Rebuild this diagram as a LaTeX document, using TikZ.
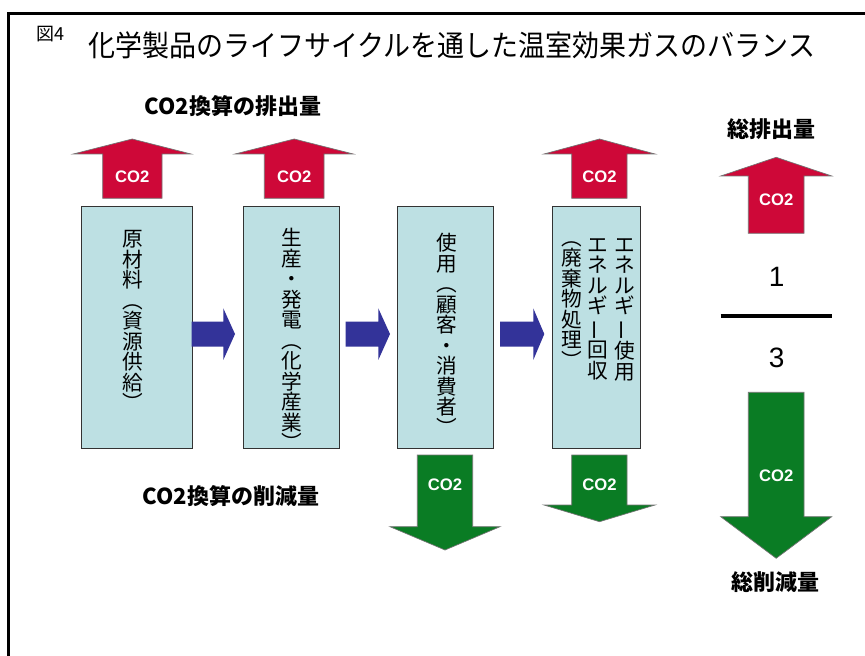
\documentclass[tikz,border=0pt]{standalone}
\usepackage{fontspec}
\usepackage{graphicx}
\newfontfamily\jp{Noto Sans CJK JP}
\newfontfamily\lsans{Liberation Sans}
\definecolor{redA}{RGB}{206,8,56}
\definecolor{greenA}{RGB}{10,124,36}
\definecolor{blueA}{RGB}{51,51,153}
\definecolor{boxC}{RGB}{189,224,227}
\newcommand\vchoon{\rotatebox[origin=c]{90}{ー}}
\tikzset{
  stagebox/.style={draw=black!80, line width=0.8pt, fill=boxC, inner sep=0, anchor=north west},
  redarr/.style={fill=redA, draw=black!55, line width=0.5pt},
  greenarr/.style={fill=greenA, draw=black!55, line width=0.5pt},
  bluearr/.style={fill=blueA},
  co2/.style={text=white, font=\lsans\bfseries\fontsize{12.5}{14}\selectfont, inner sep=0},
  vtxt/.style={anchor=north, align=center, inner sep=0, font=\jp\fontsize{15.5}{15.4}\selectfont},
  lbl/.style={inner sep=0, font=\jp\bfseries\fontsize{16.5}{18}\selectfont},
  digit/.style={inner sep=0, font=\lsans\fontsize{21}{24}\selectfont},
}
\begin{document}
\begin{tikzpicture}[x=0.75pt, y=-0.75pt]
\fill[white] (0,0) rectangle (865,656);
\useasboundingbox (0,0) rectangle (865,656);
% frame
\draw[line width=2.25pt] (8,656) -- (8,14) -- (865,14);
% title
\node[inner sep=0, font=\jp\fontsize{13.5}{15}\selectfont] (fig) at (50,34) {図4};
\node[anchor=west, inner sep=0, font=\jp\fontsize{22}{24}\selectfont] (title) at (88,45) {\scalebox{0.92}[1]{化学製品のライフサイクルを通した温室効果ガスのバランス}};
% labels
\node[lbl] (emis) at (233,106) {CO2換算の排出量};
\node[lbl] (redu) at (231,496) {CO2換算の削減量};
\node[lbl] (tot1) at (771.5,129.3) {総排出量};
\node[lbl] (tot2) at (775.5,581.7) {総削減量};
% boxes
\node[stagebox, minimum width=83pt, minimum height=181.95pt] (b1) at (81,205.7) {};
\node[stagebox, minimum width=71.8pt, minimum height=181.95pt] (b2) at (243,205.7) {};
\node[stagebox, minimum width=72pt, minimum height=181.95pt] (b3) at (397.3,205.7) {};
\node[stagebox, minimum width=66.2pt, minimum height=181.95pt] (b4) at (552,205.7) {};
% vertical texts
\node[vtxt] (t1) at (133.3,230) {原\\材\\料\\︵\\資\\源\\供\\給\\︶};
\node[vtxt] (t2) at (291.7,228) {生\\産\\・\\発\\電\\︵\\化\\学\\産\\業\\︶};
\node[vtxt] (t3) at (446.7,233) {使\\用\\︵\\顧\\客\\・\\消\\費\\者\\︶};
\node[vtxt] (t4a) at (625,238) {エ\\ネ\\ル\\ギ\\\vchoon\\使\\用};
\node[vtxt] (t4b) at (598.3,238) {エ\\ネ\\ル\\ギ\\\vchoon\\回\\収};
\node[vtxt] (t4c) at (571.7,241) {︵\\廃\\棄\\物\\処\\理\\︶};
% red up arrows
\draw[redarr] (102.7,198.3) -- (102.7,154) -- (73.3,154) -- (132.2,139) -- (191,154) -- (162,154) -- (162,198.3) -- cycle;
\node[co2] (c1) at (132.3,176.7) {CO2};
\draw[redarr] (264.3,198.3) -- (264.3,154) -- (235,154) -- (294.2,139) -- (353.3,154) -- (324,154) -- (324,198.3) -- cycle;
\node[co2] (c2) at (294.2,176.7) {CO2};
\draw[redarr] (571.7,198.3) -- (571.7,154) -- (544,154) -- (599.5,139) -- (655,154) -- (627,154) -- (627,198.3) -- cycle;
\node[co2] (c4) at (599.5,176.7) {CO2};
\draw[redarr] (748.3,233.3) -- (748.3,176) -- (720.7,176) -- (776.2,157.3) -- (831.7,176) -- (804,176) -- (804,233.3) -- cycle;
\node[co2] (ct) at (776.2,199.3) {CO2};
% green down arrows
\draw[greenarr] (417.3,455) -- (472.7,455) -- (472.7,526.7) -- (500,526.7) -- (445,550) -- (390,526.7) -- (417.3,526.7) -- cycle;
\node[co2] (g3) at (445,485) {CO2};
\draw[greenarr] (571.7,455) -- (627,455) -- (627,505) -- (655,505) -- (599.5,521.7) -- (544,505) -- (571.7,505) -- cycle;
\node[co2] (g4) at (599.5,485) {CO2};
\draw[greenarr] (748.3,392.3) -- (804,392.3) -- (804,516.7) -- (831.7,516.7) -- (776.2,558.3) -- (720.7,516.7) -- (748.3,516.7) -- cycle;
\node[co2] (gt) at (776.2,476) {CO2};
% blue flow arrows
\fill[bluearr] (191.7,321.7) -- (223.3,321.7) -- (223.3,308.3) -- (235,334) -- (223.3,360) -- (223.3,346.7) -- (191.7,346.7) -- cycle;
\fill[bluearr] (345.7,321.7) -- (378.3,321.7) -- (378.3,308.3) -- (390,334) -- (378.3,360) -- (378.3,346.7) -- (345.7,346.7) -- cycle;
\fill[bluearr] (500,321.7) -- (533.3,321.7) -- (533.3,308.3) -- (544.3,334) -- (533.3,360) -- (533.3,346.7) -- (500,346.7) -- cycle;
% ratio
\node[digit] (one) at (776.7,276.7) {1};
\draw[line width=3.5pt] (720.7,316) -- (831.7,316);
\node[digit] (three) at (776.7,358.3) {3};
\end{tikzpicture}
\end{document}
